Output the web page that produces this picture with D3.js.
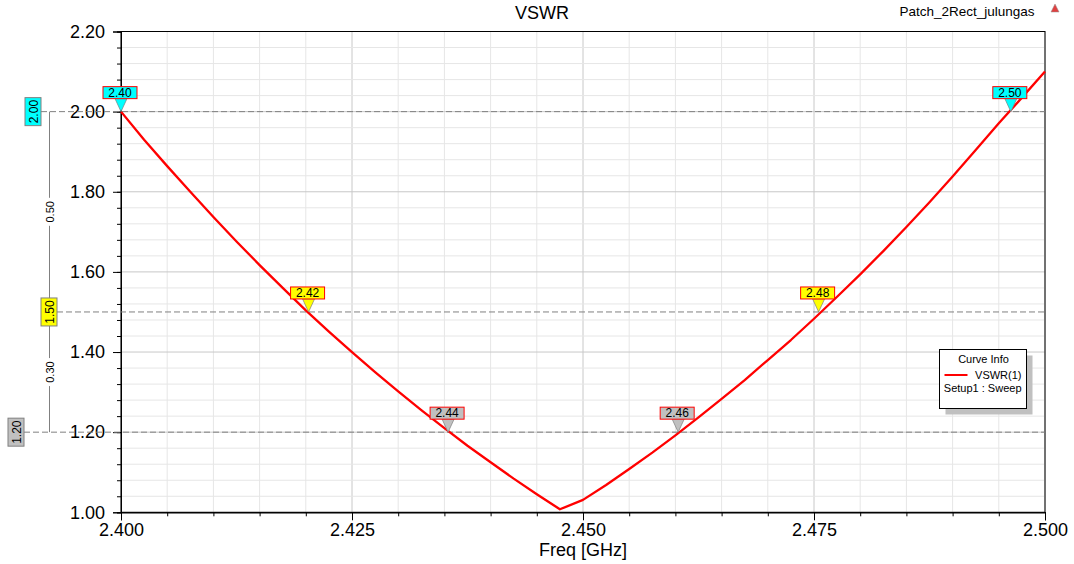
<!DOCTYPE html>
<meta charset="utf-8">
<style>
  body { margin: 0; background: #fff; }
  svg { font-family: "Liberation Sans", Arial, sans-serif; }
  .axis text { font-size: 18px; fill: #000; }
  .axis path, .axis line { stroke: #000; }
  .grid line { stroke: #e6e6e6; }
  .grid .major { stroke: #c8c8c8; }
  .mlabel { font-size: 12px; text-anchor: middle; }
</style>
<svg width="1074" height="564"></svg>
<script src="https://d3js.org/d3.v7.min.js"></script>
<script>
// sweep data
var freq = [2.4000, 2.4025, 2.4050, 2.4075, 2.4100, 2.4125, 2.4150, 2.4175, 2.4200, 2.4225,
            2.4250, 2.4275, 2.4300, 2.4325, 2.4350, 2.4375, 2.4400, 2.4425, 2.4450, 2.4475,
            2.4500, 2.4525, 2.4550, 2.4575, 2.4600, 2.4625, 2.4650, 2.4675, 2.4700, 2.4725,
            2.4750, 2.4775, 2.4800, 2.4825, 2.4850, 2.4875, 2.4900, 2.4925, 2.4950, 2.4975, 2.5000];
var vswr = [2.000, 1.930, 1.864, 1.800, 1.737, 1.676, 1.617, 1.560, 1.504, 1.451,
            1.400, 1.350, 1.302, 1.255, 1.210, 1.166, 1.125, 1.084, 1.045, 1.0075,
            1.031, 1.068, 1.108, 1.149, 1.192, 1.237, 1.283, 1.330, 1.380, 1.430,
            1.483, 1.538, 1.594, 1.652, 1.712, 1.774, 1.838, 1.904, 1.971, 2.035, 2.100];

// markers
var markerFreq = [2.4000, 2.4203, 2.4354, 2.4603, 2.4755, 2.4963];
var markerVswr = [2.00, 1.50, 1.20, 1.20, 1.50, 2.00];
var markerText = ["2.40", "2.42", "2.44", "2.46", "2.48", "2.50"];
var markerFill = ["#00ffff", "#ffff00", "#c0c0c0", "#c0c0c0", "#ffff00", "#00ffff"];

// left side level annotations
var levelVal = [2.00, 1.50, 1.20];
var levelFill = ["#00ffff", "#ffff00", "#c0c0c0"];
var levelBoxX = [25, 41, 8];

var xTicks = [2.400, 2.425, 2.450, 2.475, 2.500];
var yTicks = [1.00, 1.20, 1.40, 1.60, 1.80, 2.00, 2.20];

var svg = d3.select("svg");
var pLeft = 121, pRight = 1045, pTop = 31.5, pBottom = 512.3;

var x = d3.scaleLinear().domain([2.4, 2.5]).range([pLeft, pRight]);
var y = d3.scaleLinear().domain([1.0, 2.2]).range([pBottom, pTop]);

var xMinor = d3.range(0, 21).map(function(i) { return 2.4 + i * 0.005; });
var yMinor = d3.range(0, 31).map(function(i) { return 1.0 + i * 0.04; });

// grid
var grid = svg.append("g").attr("class", "grid");
grid.selectAll(".vx").data(xMinor).enter().append("line")
    .attr("x1", function(d) { return x(d); }).attr("x2", function(d) { return x(d); })
    .attr("y1", pTop).attr("y2", pBottom)
    .attr("class", function(d, i) { return i % 5 == 0 ? "major" : null; });
grid.selectAll(".hy").data(yMinor).enter().append("line")
    .attr("y1", function(d) { return y(d); }).attr("y2", function(d) { return y(d); })
    .attr("x1", pLeft).attr("x2", pRight)
    .attr("class", function(d, i) { return i % 5 == 0 ? "major" : null; });

// frame
svg.append("rect").attr("x", pLeft).attr("y", pTop)
    .attr("width", pRight - pLeft).attr("height", pBottom - pTop)
    .attr("fill", "none").attr("stroke", "#000").attr("stroke-width", 1);

// axes
svg.append("g").attr("class", "axis")
    .attr("transform", "translate(" + pLeft + ",0)")
    .call(d3.axisLeft(y).tickValues(yMinor).tickSize(4).tickFormat(""));
svg.append("g").attr("class", "axis")
    .attr("transform", "translate(" + pLeft + ",0)")
    .call(d3.axisLeft(y).tickValues(yTicks).tickSize(8).tickPadding(8)
        .tickFormat(function(d) { return d.toFixed(2); }));
svg.append("g").attr("class", "axis")
    .attr("transform", "translate(0," + pBottom + ")")
    .call(d3.axisBottom(x).tickValues(xMinor).tickSize(4).tickFormat(""));
svg.append("g").attr("class", "axis")
    .attr("transform", "translate(0," + pBottom + ")")
    .call(d3.axisBottom(x).tickValues(xTicks).tickSize(8).tickPadding(3)
        .tickFormat(function(d) { return d.toFixed(3); }));

// level lines
var lv = svg.append("g");
lv.selectAll("line.lev").data(levelVal).enter().append("line")
    .attr("x1", function(d, i) { return levelBoxX[i] + 16; }).attr("x2", pRight)
    .attr("y1", function(d) { return y(d); }).attr("y2", function(d) { return y(d); })
    .attr("stroke", "#808080").attr("stroke-dasharray", "6,3");
lv.append("line").attr("x1", 49.5).attr("x2", 49.5)
    .attr("y1", y(levelVal[0])).attr("y2", y(levelVal[2]))
    .attr("stroke", "#808080");
// differences between levels
d3.range(levelVal.length - 1).forEach(function(i) {
  var cy = (y(levelVal[i]) + y(levelVal[i + 1])) / 2;
  var g = lv.append("g").attr("transform", "translate(49.5," + cy + ") rotate(-90)");
  g.append("rect").attr("x", -14).attr("y", -6).attr("width", 28).attr("height", 12).attr("fill", "#fff");
  g.append("text").attr("y", 4).attr("text-anchor", "middle").attr("font-size", 11)
      .text((levelVal[i] - levelVal[i + 1]).toFixed(2));
});
levelVal.forEach(function(d, i) {
  var g = lv.append("g").attr("transform", "translate(" + (levelBoxX[i] + 8) + "," + y(d) + ") rotate(-90)");
  g.append("rect").attr("x", -14).attr("y", -8).attr("width", 28).attr("height", 16)
      .attr("fill", levelFill[i]).attr("stroke", "#808080");
  g.append("text").attr("y", 4.5).attr("text-anchor", "middle").attr("font-size", 12)
      .text(d.toFixed(2));
});

// curve
svg.append("path")
    .datum(d3.zip(freq, vswr))
    .attr("fill", "none").attr("stroke", "#ff0000").attr("stroke-width", 2.3)
    .attr("stroke-linejoin", "round")
    .attr("d", d3.line().x(function(d) { return x(d[0]); }).y(function(d) { return y(d[1]); }));

// markers
var mk = svg.append("g").selectAll("g").data(markerFreq).enter().append("g")
    .attr("transform", function(d, i) { return "translate(" + x(d) + "," + y(markerVswr[i]) + ")"; });
mk.append("path").attr("d", "M-6,-13L6,-13L0,0Z")
    .attr("fill", function(d, i) { return markerFill[i]; }).attr("stroke", "#808080").attr("stroke-width", 0.7);
mk.append("rect").attr("x", -18).attr("y", -25).attr("width", 34).attr("height", 12)
    .attr("fill", function(d, i) { return markerFill[i]; }).attr("stroke", "#ff0000");
mk.append("text").attr("class", "mlabel").attr("x", -1).attr("y", -15)
    .text(function(d, i) { return markerText[i]; });

// titles
svg.append("text").attr("x", 542).attr("y", 19).attr("text-anchor", "middle")
    .attr("font-size", 18).text("VSWR");
svg.append("text").attr("x", (pLeft + pRight) / 2).attr("y", 556).attr("text-anchor", "middle")
    .attr("font-size", 18).text("Freq [GHz]");
svg.append("text").attr("x", 967).attr("y", 16).attr("text-anchor", "middle")
    .attr("font-size", 13.5).text("Patch_2Rect_julungas");
svg.append("path").attr("d", "M1055,4L1059,12L1051,12Z").attr("fill", "#e04040").attr("stroke", "#909090").attr("stroke-width", 0.5);

// legend
var lg = svg.append("g").attr("transform", "translate(939.5,349.5)");
lg.append("rect").attr("x", 6).attr("y", 6).attr("width", 87).attr("height", 59).attr("fill", "#c0c0c0");
lg.append("rect").attr("width", 87).attr("height", 59).attr("fill", "#fff").attr("stroke", "#000");
lg.append("text").attr("x", 44).attr("y", 13).attr("text-anchor", "middle").attr("font-size", 11).text("Curve Info");
lg.append("line").attr("x1", 5).attr("x2", 28).attr("y1", 25.5).attr("y2", 25.5).attr("stroke", "#ff0000").attr("stroke-width", 2);
lg.append("text").attr("x", 82).attr("y", 29.5).attr("text-anchor", "end").attr("font-size", 11).text("VSWR(1)");
lg.append("text").attr("x", 82).attr("y", 42).attr("text-anchor", "end").attr("font-size", 11).text("Setup1 : Sweep");
</script>
